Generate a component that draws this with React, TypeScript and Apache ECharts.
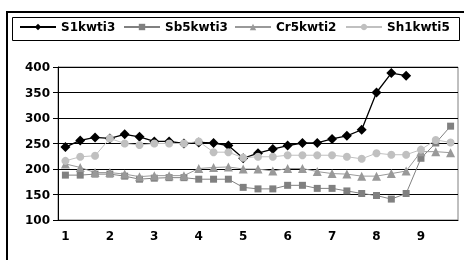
import React, { useEffect, useRef } from "react";
import * as echarts from "echarts";

const categories = [
  "1", "", "", "2", "", "", "3", "", "", "4", "", "", "5", "", "",
  "6", "", "", "7", "", "", "8", "", "", "9", "", "",
];
const seriesNames = ["S1kwti3", "Sb5kwti3", "Cr5kwti2", "Sh1kwti5"];
const s1kwti3 = [
  243, 256, 262, 260, 268, 263, 254, 254, 250, 252, 251, 246, 221, 231,
  239, 246, 251, 251, 259, 265, 277, 350, 388, 383, null, null, null,
];
const sb5kwti3 = [
  188, 188, 190, 190, 186, 180, 182, 183, 183, 180, 180, 180, 164, 161,
  161, 168, 168, 162, 162, 157, 152, 148, 141, 152, 221, 251, 284,
];
const cr5kwti2 = [
  210, 203, 193, 193, 190, 185, 187, 187, 187, 201, 203, 204, 200, 200,
  196, 201, 201, 195, 191, 190, 186, 186, 191, 196, 234, 234, 232,
];
const sh1kwti5 = [
  216, 224, 226, 260, 250, 247, 250, 250, 250, 254, 233, 233, 222, 224,
  224, 227, 227, 227, 227, 224, 220, 231, 228, 228, 238, 257, 252,
];
const yTicks = { min: 100, max: 400, interval: 50 };

const FONT = "DejaVu Sans";

export default function App() {
  const ref = useRef<HTMLDivElement>(null);
  useEffect(() => {
    if (!ref.current) return;
    const chart = echarts.init(ref.current, null, { renderer: "svg" });
    const styles = [
      { color: "#000000", symbol: "diamond", size: 10, width: 1.3 },
      { color: "#808080", symbol: "rect", size: 7, width: 1 },
      { color: "#999999", symbol: "triangle", size: 9, width: 1 },
      { color: "#c0c0c0", symbol: "circle", size: 8, width: 1 },
    ];
    const datas = [s1kwti3, sb5kwti3, cr5kwti2, sh1kwti5];
    const legendLefts = [19, 123, 234, 345];
    chart.setOption({
      animation: false,
      textStyle: { fontFamily: FONT },
      grid: {
        left: 58,
        right: 6,
        top: 67,
        bottom: 40,
        show: true,
        borderColor: "#808080",
        borderWidth: 1,
      },
      legend: seriesNames.map((n, i) => ({
        data: [n],
        left: legendLefts[i],
        top: 21,
        padding: 0,
        itemWidth: 36,
        itemHeight: 8,
        textStyle: { fontFamily: FONT, fontWeight: "bold", fontSize: 12, color: "#000" },
      })),
      graphic: [
        {
          type: "rect",
          shape: { x: 7, y: 12, width: 480, height: 270 },
          style: { fill: "none", stroke: "#000", lineWidth: 2 },
          silent: true,
        },
        {
          type: "rect",
          shape: { x: 12.5, y: 17.5, width: 447, height: 23 },
          style: { fill: "none", stroke: "#000", lineWidth: 1 },
          silent: true,
        },
      ],
      xAxis: {
        type: "category",
        data: categories,
        boundaryGap: true,
        axisLine: { lineStyle: { color: "#000", width: 1 } },
        axisTick: { interval: 0, length: 4, lineStyle: { color: "#000" } },
        axisLabel: {
          interval: 0,
          margin: 10,
          color: "#000",
          fontFamily: FONT,
          fontWeight: "bold",
          fontSize: 12,
        },
        splitLine: { show: false },
      },
      yAxis: {
        type: "value",
        min: yTicks.min,
        max: yTicks.max,
        interval: yTicks.interval,
        axisLine: { show: true, lineStyle: { color: "#000", width: 1 } },
        axisTick: { show: true, length: 5, lineStyle: { color: "#000" } },
        axisLabel: {
          margin: 8,
          color: "#000",
          fontFamily: FONT,
          fontWeight: "bold",
          fontSize: 12,
        },
        splitLine: { show: true, lineStyle: { color: "#000", width: 1 } },
      },
      series: seriesNames.map((n, i) => ({
        name: n,
        type: "line",
        data: datas[i],
        symbol: styles[i].symbol,
        symbolSize: styles[i].size,
        showAllSymbol: true,
        connectNulls: false,
        lineStyle: { color: styles[i].color, width: styles[i].width },
        itemStyle: { color: styles[i].color, borderWidth: 0 },
        z: 2 + i,
      })),
    });
    return () => chart.dispose();
  }, []);
  return (
    <div
      ref={ref}
      style={{ position: "fixed", left: 0, top: 0, width: 464, height: 260 }}
    />
  );
}
